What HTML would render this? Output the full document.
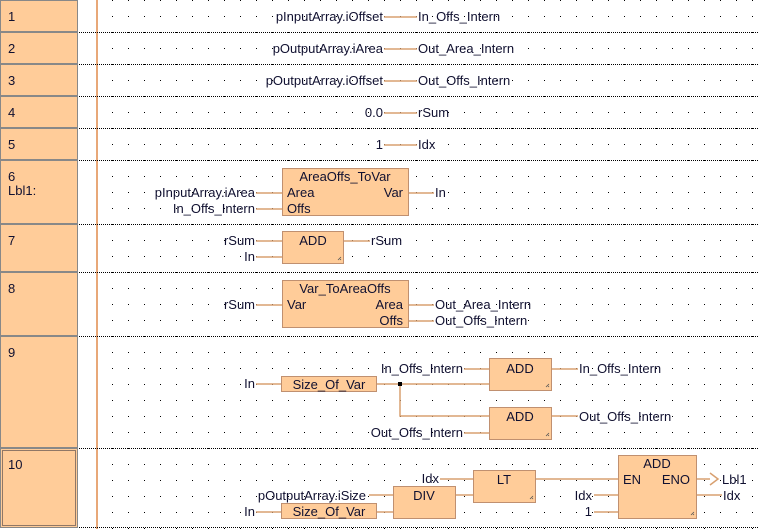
<!DOCTYPE html>
<html><head><meta charset="utf-8"><style>
html,body{margin:0;padding:0;background:#fff;width:759px;height:529px;overflow:hidden}
svg{display:block}
text{font-family:"Liberation Sans",Arial,sans-serif;font-size:13px;fill:#101030}
</style></head><body>
<svg width="759" height="529" xmlns="http://www.w3.org/2000/svg">
<defs>
<pattern id="d" x="0" y="0" width="16" height="16" patternUnits="userSpaceOnUse"><rect x="0" y="0" width="1" height="1" fill="#000"/></pattern>
</defs>
<rect x="104" y="0" width="655" height="529" fill="url(#d)"/>
<g fill="#ffcc99" stroke="#888" stroke-width="1">
<rect x="0.5" y="0.5" width="77" height="31"/>
<rect x="0.5" y="32.5" width="77" height="31"/>
<rect x="0.5" y="64.5" width="77" height="31"/>
<rect x="0.5" y="96.5" width="77" height="31"/>
<rect x="0.5" y="128.5" width="77" height="31"/>
<rect x="0.5" y="160.5" width="77" height="63"/>
<rect x="0.5" y="224.5" width="77" height="47"/>
<rect x="0.5" y="272.5" width="77" height="63"/>
<rect x="0.5" y="336.5" width="77" height="111"/>
<rect x="0.5" y="448.5" width="77" height="79"/>
</g>
<rect x="2.5" y="450.5" width="73" height="75" fill="none" stroke="#223" stroke-dasharray="1,1"/>
<g>
<text x="8" y="21">1</text><text x="8" y="53">2</text><text x="8" y="85">3</text><text x="8" y="117">4</text><text x="8" y="149">5</text>
<text x="8" y="181">6</text><text x="8" y="195">Lbl1:</text><text x="8" y="245">7</text><text x="8" y="293">8</text><text x="8" y="357">9</text><text x="8" y="469">10</text>
</g>
<line x1="97" y1="0" x2="97" y2="529" stroke="#e8a878" stroke-width="2"/>
<g stroke="#000" stroke-dasharray="1,1" stroke-width="1">
<line x1="79" y1="32.5" x2="759" y2="32.5"/><line x1="79" y1="64.5" x2="759" y2="64.5"/><line x1="79" y1="96.5" x2="759" y2="96.5"/>
<line x1="79" y1="128.5" x2="759" y2="128.5"/><line x1="79" y1="160.5" x2="759" y2="160.5"/><line x1="79" y1="224.5" x2="759" y2="224.5"/>
<line x1="79" y1="272.5" x2="759" y2="272.5"/><line x1="79" y1="336.5" x2="759" y2="336.5"/><line x1="79" y1="448.5" x2="759" y2="448.5"/>
<line x1="79" y1="527.5" x2="759" y2="527.5"/>
</g>
<g stroke="#d8a070" stroke-width="1.5" fill="none">
<path d="M384 17H417M384 49H417M384 81H417M384 113H417M384 145H417"/>
<path d="M256 193H282M256 209H282M409 193H434"/>
<path d="M256 241H282M256 257H282M344 241H370"/>
<path d="M256 305H282M409 305H434M409 321H434"/>
<path d="M256 384H281M377 384H489M400 384V416H489M464 369H489M464 433H489M552 369H578M552 416H578"/>
<path d="M440 479H473M456 495H473M369 495H393M256 512H281M377 512H393M536 479H618M594 495H618M594 512H618M697 479H710M697 495H722"/>
</g>
<rect x="398" y="382" width="4" height="4" fill="#000"/>
<path d="M710 473L718 479L710 485" fill="none" stroke="#d8a070" stroke-width="1.5"/>
<g fill="#ffcc99" stroke="#c09070" stroke-width="1">
<rect x="282.5" y="168.5" width="126" height="47"/>
<rect x="282.5" y="231.5" width="61" height="32"/>
<rect x="282.5" y="280.5" width="126" height="47"/>
<rect x="281.5" y="376.5" width="95" height="15"/>
<rect x="489.5" y="358.5" width="62" height="32"/>
<rect x="489.5" y="407.5" width="62" height="32"/>
<rect x="473.5" y="470.5" width="62" height="32"/>
<rect x="393.5" y="486.5" width="62" height="32"/>
<rect x="281.5" y="503.5" width="95" height="15"/>
<rect x="618.5" y="455.5" width="78" height="63"/>
</g>
<g stroke="#555" stroke-width="0.8">
<path d="M338 260l3-3M340 260l1-1M546 387l3-3M548 387l1-1M546 436l3-3M548 436l1-1M530 499l3-3M532 499l1-1M691 515l3-3M693 515l1-1"/>
</g>
<g text-anchor="end">
<text x="383" y="21">pInputArray.iOffset</text><text x="383" y="53">pOutputArray.iArea</text><text x="383" y="85">pOutputArray.iOffset</text>
<text x="383" y="117">0.0</text><text x="383" y="149">1</text>
<text x="255" y="197">pInputArray.iArea</text><text x="255" y="213">In_Offs_Intern</text>
<text x="255" y="245">rSum</text><text x="255" y="261">In</text><text x="255" y="309">rSum</text>
<text x="255" y="388">In</text><text x="463" y="373">In_Offs_Intern</text><text x="463" y="437">Out_Offs_Intern</text>
<text x="439" y="483">Idx</text><text x="366" y="500">pOutputArray.iSize</text><text x="255" y="516">In</text>
<text x="592" y="500">Idx</text><text x="592" y="516">1</text>
<text x="403" y="197">Var</text><text x="403" y="309">Area</text><text x="403" y="325">Offs</text><text x="690" y="484">ENO</text>
</g>
<g>
<text x="418" y="21">In_Offs_Intern</text><text x="418" y="53">Out_Area_Intern</text><text x="418" y="85">Out_Offs_Intern</text>
<text x="418" y="117">rSum</text><text x="418" y="149">Idx</text>
<text x="435" y="197">In</text><text x="371" y="245">rSum</text><text x="435" y="309">Out_Area_Intern</text><text x="435" y="325">Out_Offs_Intern</text>
<text x="579" y="373">In_Offs_Intern</text><text x="579" y="421">Out_Offs_Intern</text>
<text x="722" y="484">Lbl1</text><text x="723" y="500">Idx</text>
<text x="287" y="197">Area</text><text x="287" y="213">Offs</text><text x="287" y="309">Var</text><text x="623" y="484">EN</text>
</g>
<g text-anchor="middle">
<text x="345" y="181">AreaOffs_ToVar</text><text x="313" y="245">ADD</text><text x="345" y="293">Var_ToAreaOffs</text>
<text x="329" y="389">Size_Of_Var</text><text x="520" y="373">ADD</text><text x="520" y="421">ADD</text>
<text x="504" y="484">LT</text><text x="424" y="500">DIV</text><text x="329" y="516">Size_Of_Var</text><text x="657" y="468">ADD</text>
</g>
</svg>
</body></html>
